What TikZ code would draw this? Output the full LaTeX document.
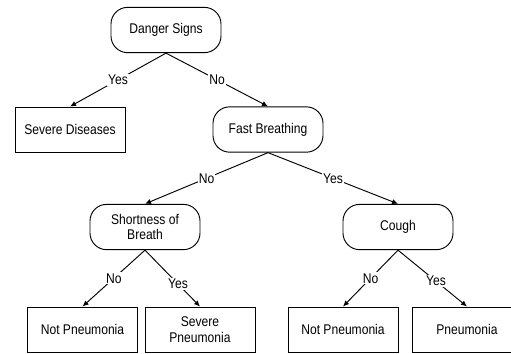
\documentclass[tikz,border=0pt]{standalone}
\usepackage{fontspec}
\setmainfont{Liberation Sans}[FakeStretch=0.86]
\usetikzlibrary{arrows.meta}
\begin{document}
\begin{tikzpicture}[
    x=0.03cm, y=-0.03cm,
    test/.style={draw, rounded corners=0.5cm, minimum width=3.3cm, minimum height=1.36cm, align=center, line width=0.8pt},
    leaf/.style={draw, minimum width=3.3cm, minimum height=1.35cm, align=center, line width=0.8pt},
    answer/.style={fill=white, inner sep=1pt},
    font=\fontsize{12}{13.5}\selectfont
]
\useasboundingbox (0,0) rectangle (511,353);
\clip (0,0) rectangle (511,353);

% Root
\node[test] (DS) at (166,30) {Danger Signs};

% Second level
\node[leaf] (SD) at (70,129.5) {Severe Diseases};
\node[test] (FB) at (268,129.5) {Fast Breathing};

% Third level
\node[test] (SB) at (145,227) {Shortness of\\Breath};
\node[test] (CO) at (398,227) {Cough};

% Leaves
\node[leaf] (NP1) at (82.5,329.5) {Not Pneumonia};
\node[leaf] (SP)  at (200,329.5) {Severe\\Pneumonia};
\node[leaf] (NP2) at (343,329.5) {Not Pneumonia};
\node[leaf] (PN)  at (467,329.5) {Pneumonia};

% Connections
\foreach \a/\b/\t/\p in {DS/SD/Yes/0.5, DS/FB/No/0.5, FB/SB/No/0.5, FB/CO/Yes/0.5,
                         SB/NP1/No/0.5, SB/SP/Yes/0.6, CO/NP2/No/0.5, CO/PN/Yes/0.55}
    \draw[line width=0.8pt, -{Latex[length=1.8mm, width=1.6mm]}]
        (\a.south) -- node[answer, pos=\p] {\t} (\b.north);

\end{tikzpicture}
\end{document}
